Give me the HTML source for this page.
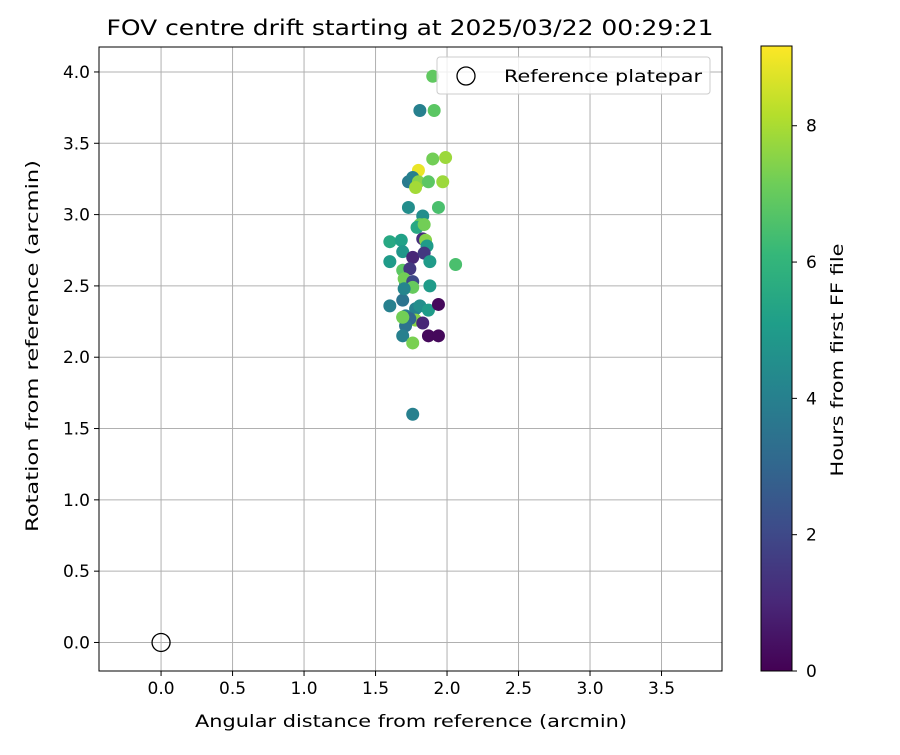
<!DOCTYPE html>
<html><head><meta charset="utf-8"><style>body{margin:0;background:#fff}svg{font-family:"DejaVu Sans","Liberation Sans",sans-serif}</style></head>
<body>
<svg id="c" width="900" height="750"></svg>
<script>
const xs=[1.90,1.81,1.91,1.90,1.99,1.80,1.73,1.76,1.80,1.87,1.97,1.78,1.73,1.83,1.94,1.81,1.79,1.84,1.60,1.68,1.83,1.85,1.86,1.60,1.69,1.76,1.84,1.88,2.06,1.69,1.74,1.71,1.70,1.76,1.76,1.88,1.60,1.69,1.78,1.81,1.87,1.94,1.78,1.71,1.74,1.69,1.71,1.83,1.69,1.76,1.87,1.94,1.76,1.70,1.69];
const ys=[3.97,3.73,3.73,3.39,3.40,3.31,3.23,3.26,3.23,3.23,3.23,3.19,3.05,2.99,3.05,2.93,2.91,2.93,2.81,2.82,2.83,2.82,2.78,2.67,2.74,2.70,2.73,2.67,2.65,2.61,2.62,2.52,2.55,2.53,2.49,2.50,2.36,2.40,2.34,2.36,2.33,2.37,2.26,2.29,2.27,2.28,2.22,2.24,2.15,2.10,2.15,2.15,1.60,2.48,2.28];
const hs=[6.9,4.0,6.8,7.2,7.8,8.9,3.8,4.0,7.5,6.8,7.8,7.9,4.5,4.5,6.5,7.0,5.5,7.2,5.5,5.2,1.2,7.5,5.0,5.0,4.8,1.0,1.5,5.0,6.5,6.8,1.5,4.5,7.2,2.0,7.0,5.0,4.0,3.5,4.0,4.5,5.0,0.2,7.5,3.8,3.0,7.4,3.5,1.0,4.0,7.3,0.2,0.2,4.0,4.2,7.2];
const xticks=[0,0.5,1,1.5,2,2.5,3,3.5],yticks=[0,0.5,1,1.5,2,2.5,3,3.5,4],cticks=[0,2,4,6,8];
const ns="http://www.w3.org/2000/svg",svg=document.getElementById('c');
const L=99,R=722,T=47,B=671,x0=-0.434,x1=3.923,y0=-0.2,y1=4.175,cmax=9.17;
const X=v=>L+(v-x0)/(x1-x0)*(R-L),Y=v=>B-(v-y0)/(y1-y0)*(B-T);
function el(t,a,p,txt){const e=document.createElementNS(ns,t);for(const k in a)e.setAttribute(k,a[k]);if(txt!=null)e.textContent=txt;(p||svg).appendChild(e);return e;}
const vir=[[68,1,84],[72,40,120],[62,74,137],[49,104,142],[38,130,142],[31,158,137],[53,183,121],[109,205,89],[180,222,44],[253,231,37]];
function col(h){let t=Math.max(0,Math.min(1,h/cmax))*9,i=Math.min(8,Math.floor(t)),f=t-i,a=vir[i],b=vir[i+1];return `rgb(${a.map((v,k)=>Math.round(v+(b[k]-v)*f)).join(',')})`;}
xticks.forEach(v=>{let g=el('g',{});el('line',{x1:X(v),x2:X(v),y1:T,y2:B,stroke:'#b0b0b0','stroke-width':1},g);el('line',{x1:X(v),x2:X(v),y1:B,y2:B+5,stroke:'#000'},g);el('text',{x:X(v),y:B+23,'text-anchor':'middle','font-size':17},g,v.toFixed(1));});
yticks.forEach(v=>{let g=el('g',{});el('line',{x1:L,x2:R,y1:Y(v),y2:Y(v),stroke:'#b0b0b0','stroke-width':1},g);el('line',{x1:L-5,x2:L,y1:Y(v),y2:Y(v),stroke:'#000'},g);el('text',{x:L-9,y:Y(v)+6,'text-anchor':'end','font-size':17},g,v.toFixed(1));});
let ref=el('circle',{cx:X(0),cy:Y(0),r:9,fill:'none',stroke:'#000','stroke-width':1.3});
xs.forEach((v,i)=>{let c=el('circle',{cx:X(v),cy:Y(ys[i]),r:6.5,fill:col(hs[i])});});
el('rect',{x:L,y:T,width:R-L,height:B-T,fill:'none',stroke:'#000'});
let lg=el('g',{});
el('rect',{x:437,y:57,width:273,height:37,rx:3,fill:'#fff','fill-opacity':0.8,stroke:'#ccc'},lg);
el('circle',{cx:466,cy:76,r:9,fill:'none',stroke:'#000','stroke-width':1.3},lg);
el('text',{x:504,y:82,'font-size':17,textLength:198,lengthAdjust:'spacingAndGlyphs'},lg,'Reference platepar');
el('text',{x:410,y:35,'text-anchor':'middle','font-size':21,textLength:607,lengthAdjust:'spacingAndGlyphs'},null,'FOV centre drift starting at 2025/03/22 00:29:21');
el('text',{x:411,y:727,'text-anchor':'middle','font-size':17,textLength:432,lengthAdjust:'spacingAndGlyphs'},null,'Angular distance from reference (arcmin)');
el('text',{x:38,y:346,'text-anchor':'middle','font-size':17,textLength:372,lengthAdjust:'spacingAndGlyphs',transform:'rotate(-90 38 346)'},null,'Rotation from reference (arcmin)');
const cb=el('g',{});
const df=el('defs',{},cb),gr=el('linearGradient',{id:'vg',x1:0,y1:1,x2:0,y2:0},df);
vir.forEach((c,i)=>el('stop',{offset:i/9,'stop-color':`rgb(${c})`},gr));
const CT=46,CB=671;el('rect',{x:761,y:CT,width:31,height:CB-CT,fill:'url(#vg)',stroke:'#000'},cb);
cticks.forEach(v=>{let y=CB-v/cmax*(CB-CT);el('line',{x1:792,x2:797,y1:y,y2:y,stroke:'#000'},cb);el('text',{x:806,y:y+6,'font-size':17},cb,v);});
el('text',{x:843,y:360,'text-anchor':'middle','font-size':17,textLength:233,lengthAdjust:'spacingAndGlyphs',transform:'rotate(-90 843 360)'},cb,'Hours from first FF file');
</script></body></html>
